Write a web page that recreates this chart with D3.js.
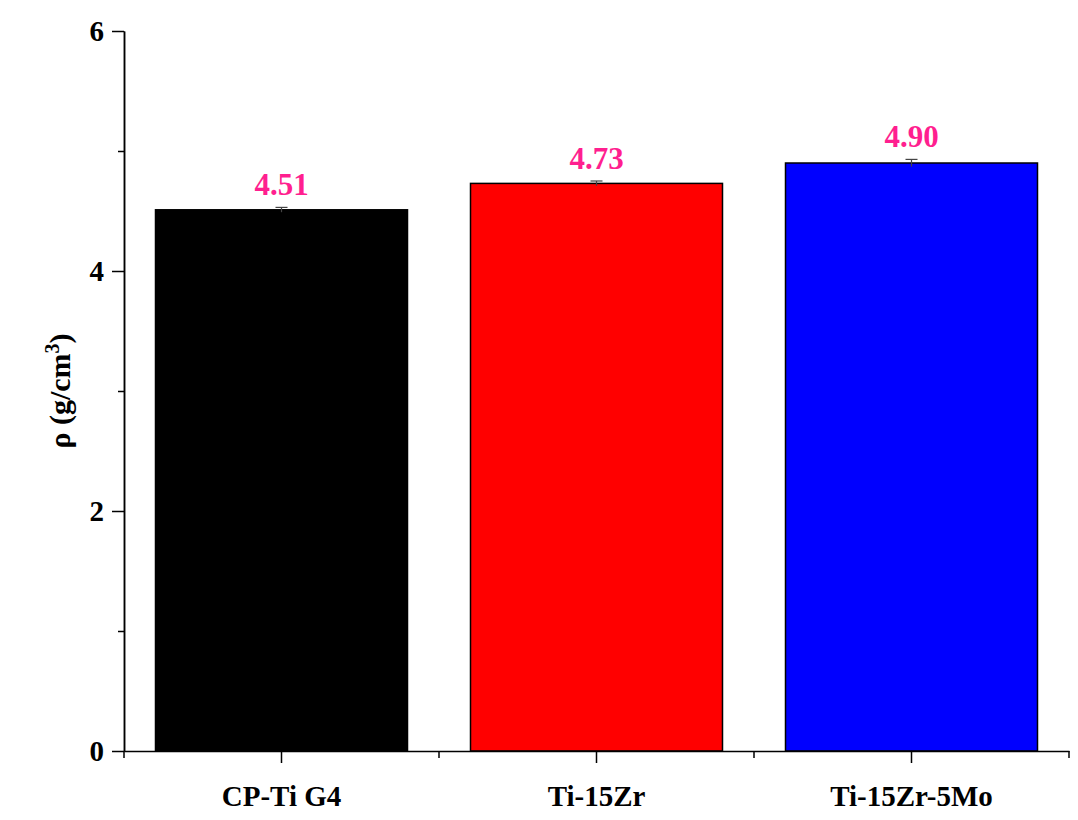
<!DOCTYPE html>
<html><head><meta charset="utf-8">
<script src="https://cdn.jsdelivr.net/npm/d3@7"></script>
<style>body{margin:0;background:#fff}text{font-family:"Liberation Serif","Times New Roman",serif;font-weight:bold}</style>
</head><body><div id="chart"></div>
<script>
var categories = ["CP-Ti G4", "Ti-15Zr", "Ti-15Zr-5Mo"]
var values = [4.51, 4.73, 4.90]
var errors = [0.02, 0.02, 0.03]
var colors = ["#000000", "#ff0000", "#0000ff"]
var yTicks = [0, 2, 4, 6]

var width = 1078, height = 820
var mLeft = 124, mRight = 1069, mTop = 31, mBottom = 751

var svg = d3.select("#chart").append("svg").attr("width", width).attr("height", height)

var x = d3.scaleBand().domain(categories).range([mLeft, mRight]).paddingInner(0.2).paddingOuter(0.1)
var y = d3.scaleLinear().domain([0, 6]).range([mBottom, mTop])

svg.selectAll("rect.bar").data(values).enter().append("rect")
    .attr("class", "bar")
    .attr("x", function (d, i) { return x(categories[i]) })
    .attr("width", x.bandwidth())
    .attr("y", function (d) { return y(d) })
    .attr("height", function (d) { return mBottom - y(d) })
    .attr("fill", function (d, i) { return colors[i] })
    .attr("stroke", "#000").attr("stroke-width", 1.5)

// error bars
var cx = function (i) { return x(categories[i]) + x.bandwidth() / 2 }
values.forEach(function (d, i) {
    var g = svg.append("g").attr("stroke", "#444").attr("stroke-width", 1.2)
    g.append("line").attr("x1", cx(i)).attr("x2", cx(i)).attr("y1", y(d + errors[i])).attr("y2", y(d - errors[i]))
    g.append("line").attr("x1", cx(i) - 6).attr("x2", cx(i) + 6).attr("y1", y(d + errors[i])).attr("y2", y(d + errors[i]))
})

svg.selectAll("text.val").data(values).enter().append("text")
    .attr("class", "val")
    .attr("x", function (d, i) { return cx(i) })
    .attr("y", function (d, i) { return y(d + errors[i]) - 12 })
    .attr("text-anchor", "middle").attr("font-size", 31).attr("fill", "#ff1f8f")
    .text(function (d) { return d.toFixed(2) })

// y axis
var yAxis = svg.append("g").attr("transform", "translate(" + mLeft + ",0)")
    .call(d3.axisLeft(y).tickValues(yTicks).tickFormat(d3.format("d")).tickSize(12).tickSizeOuter(0).tickPadding(8))
yAxis.selectAll("text").attr("font-size", 29).attr("fill", "#000")
yAxis.append("g").call(d3.axisLeft(y).tickValues([1, 3, 5]).tickSize(6).tickSizeOuter(0).tickFormat(""))
yAxis.selectAll("path,line").attr("stroke", "#000").attr("stroke-width", 1.5)

// x axis
var xAxis = svg.append("g").attr("transform", "translate(0," + mBottom + ")")
    .call(d3.axisBottom(x).tickSize(12).tickSizeOuter(0).tickPadding(22))
xAxis.selectAll("text").attr("font-size", 29).attr("fill", "#000")
var step = x.step()
var minor = [0, 1, 2, 3].map(function (i) { return mLeft + i * step })
xAxis.selectAll("line.minor").data(minor).enter().append("line").attr("class", "minor")
    .attr("x1", function (d) { return d }).attr("x2", function (d) { return d }).attr("y1", 0).attr("y2", 7)
xAxis.selectAll("path,line").attr("stroke", "#000").attr("stroke-width", 1.5)

svg.append("text").attr("transform", "translate(70," + ((mTop + mBottom) / 2) + ") rotate(-90)")
    .attr("text-anchor", "middle").attr("font-size", 30)
    .html('ρ (g/cm<tspan baseline-shift="super" font-size="20">3</tspan>)')
</script></body></html>
